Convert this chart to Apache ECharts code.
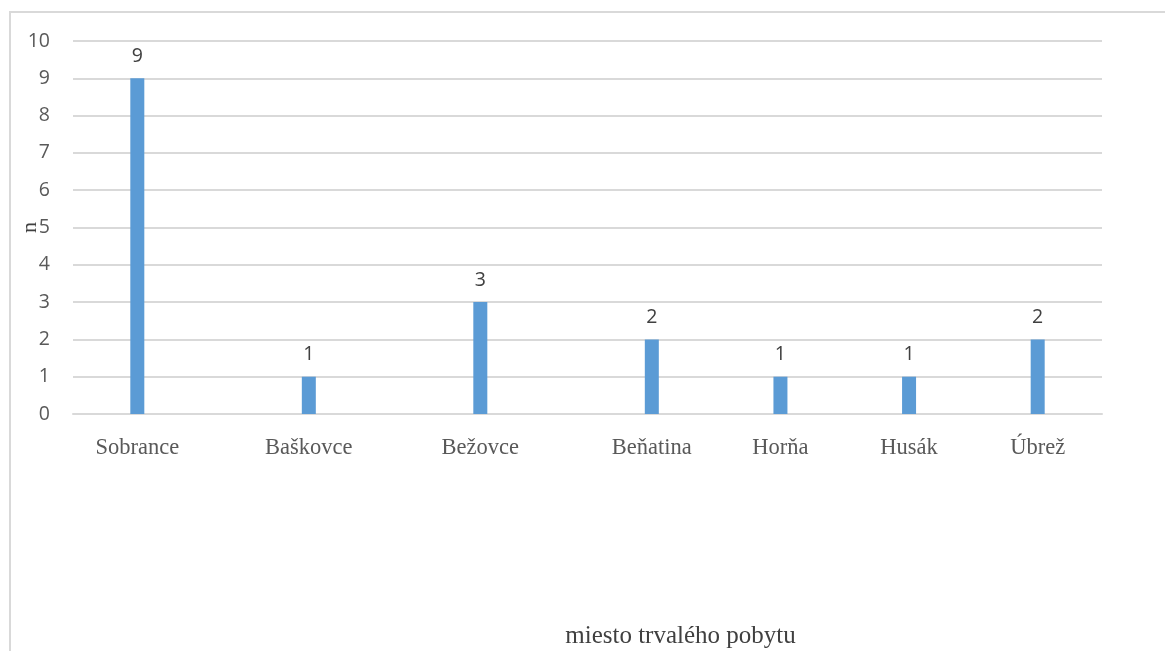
<!DOCTYPE html>
<html>
<head>
<meta charset="utf-8">
<script src="https://cdn.jsdelivr.net/npm/echarts@6/dist/echarts.min.js"></script>
<style>
  html, body { margin: 0; padding: 0; background: #fff; }
  #frame {
    position: absolute; left: 9px; top: 11px; width: 1160px; height: 650px;
    border-left: 2px solid #d9d9d9; border-top: 2px solid #d9d9d9;
  }
  #main { position: absolute; left: 0; top: 0; width: 1165px; height: 651px; }
</style>
</head>
<body>
<div id="frame"></div>
<div id="main"></div>
<script>
// the original spacing is uneven, so blank slots sit between the places
const categories = ['', 'Sobrance', '', '', '', 'Baškovce', '', '', '', 'Bežovce', '', '', '',
  'Beňatina', '', '', 'Horňa', '', '', 'Husák', '', '', 'Úbrež', '']
const counts = [null, 9, null, null, null, 1, null, null, null, 3, null, null, null,
  2, null, null, 1, null, null, 1, null, null, 2, null]
const yTicks = [0, 10, 1]  // min, max, step

const chart = echarts.init(document.getElementById('main'))
const option = {
  animation: false,
  grid: { left: 73, right: 63, top: 41, bottom: 237, containLabel: false, outerBoundsMode: 'none' },
  xAxis: {
    type: 'category',
    data: categories,
    name: 'miesto trvalého pobytu',
    nameLocation: 'middle',
    nameGap: 210,
    nameMoveOverlap: false,
    nameTextStyle: {
      fontFamily: 'Liberation Serif', fontSize: 25, color: '#404040',
      padding: [0, 0, 0, 186]  // title sits right of centre in the original
    },
    axisLine: { lineStyle: { color: '#d9d9d9', width: 2 } },
    axisTick: { show: false },
    axisLabel: {
      interval: 0,
      margin: 23,
      fontFamily: 'Liberation Serif',
      fontSize: 22.5,
      color: '#595959'
    }
  },
  yAxis: {
    type: 'value',
    min: yTicks[0],
    max: yTicks[1],
    interval: yTicks[2],
    name: 'n',
    nameLocation: 'middle',
    nameGap: 32,
    nameMoveOverlap: false,
    nameTextStyle: { fontFamily: 'Liberation Serif', fontSize: 22, color: '#404040' },
    axisLine: { show: false },
    axisTick: { show: false },
    axisLabel: { fontFamily: 'Open Sans', fontSize: 19.5, color: '#595959', margin: 23 },
    splitLine: { lineStyle: { color: '#d9d9d9', width: 2 } }
  },
  series: [
    {
      type: 'bar',
      data: counts,
      barWidth: 14,
      itemStyle: { color: '#5b9bd5' },
      label: {
        show: true,
        position: 'top',
        distance: 12,
        fontFamily: 'Open Sans',
        fontSize: 19.5,
        color: '#404040'
      }
    }
  ]
}
chart.setOption(option)
</script>
</body>
</html>
